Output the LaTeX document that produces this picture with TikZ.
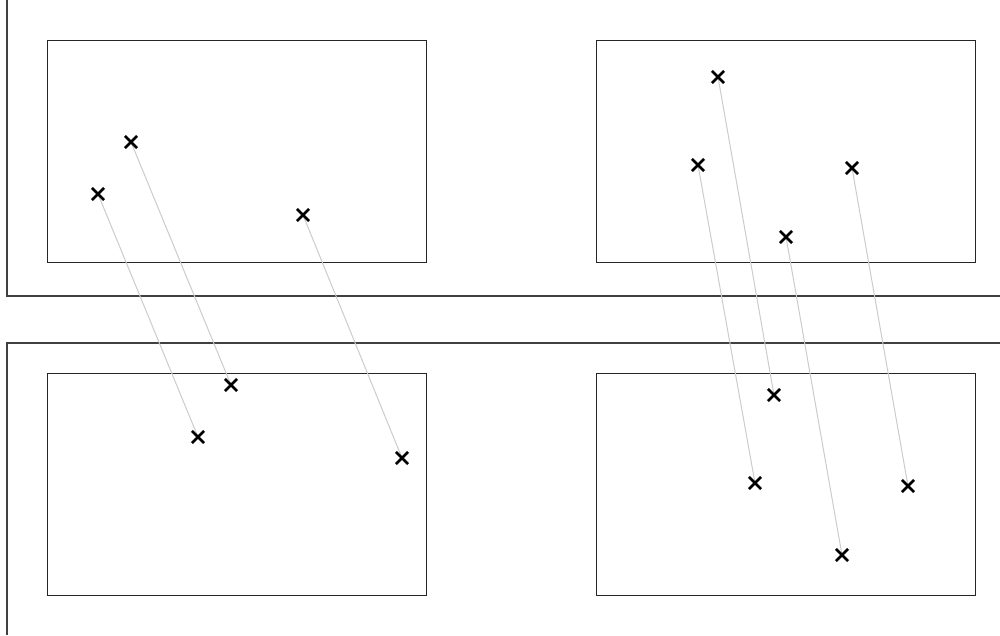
\documentclass[tikz,border=0pt]{standalone}
\usetikzlibrary{shapes.misc}
\begin{document}
\begin{tikzpicture}[x=1pt,y=-1pt,
  frame/.style={draw=black!75,line width=1.3pt},
  box/.style={draw=black!85,line width=1pt},
  xmark/.style={cross out,draw=black,line width=2.7pt,minimum size=9.5pt,inner sep=0pt},
  link/.style={draw=black!20,line width=1pt}]
\useasboundingbox[fill=white] (0,0) rectangle (1000,635);
% frames
\draw[frame] (7,0) -- (7,296) -- (1000,296);
\draw[frame] (1000,343) -- (7,343) -- (7,635);
% boxes
\draw[box] (47,40) rectangle (426,262);
\draw[box] (596,40) rectangle (975,262);
\draw[box] (47,373) rectangle (426,595);
\draw[box] (596,373) rectangle (975,595);
% points
\coordinate (a1) at (131,142);
\coordinate (a2) at (98,194);
\coordinate (a3) at (303,215);
\coordinate (b1) at (231,385);
\coordinate (b2) at (198,437);
\coordinate (b3) at (402,458);
\coordinate (c1) at (718,77);
\coordinate (c2) at (698,165);
\coordinate (c3) at (852,168);
\coordinate (c4) at (786,237);
\coordinate (d1) at (774,395);
\coordinate (d2) at (755,483);
\coordinate (d3) at (908,486);
\coordinate (d4) at (842,555);
% links
\foreach \p/\q in {a1/b1,a2/b2,a3/b3,c1/d1,c2/d2,c3/d3,c4/d4}
  \draw[link] (\p) -- (\q);
% crosses
\foreach \p in {a1,a2,a3,b1,b2,b3,c1,c2,c3,c4,d1,d2,d3,d4}
  \node[xmark] (m\p) at (\p) {};
\end{tikzpicture}
\end{document}
